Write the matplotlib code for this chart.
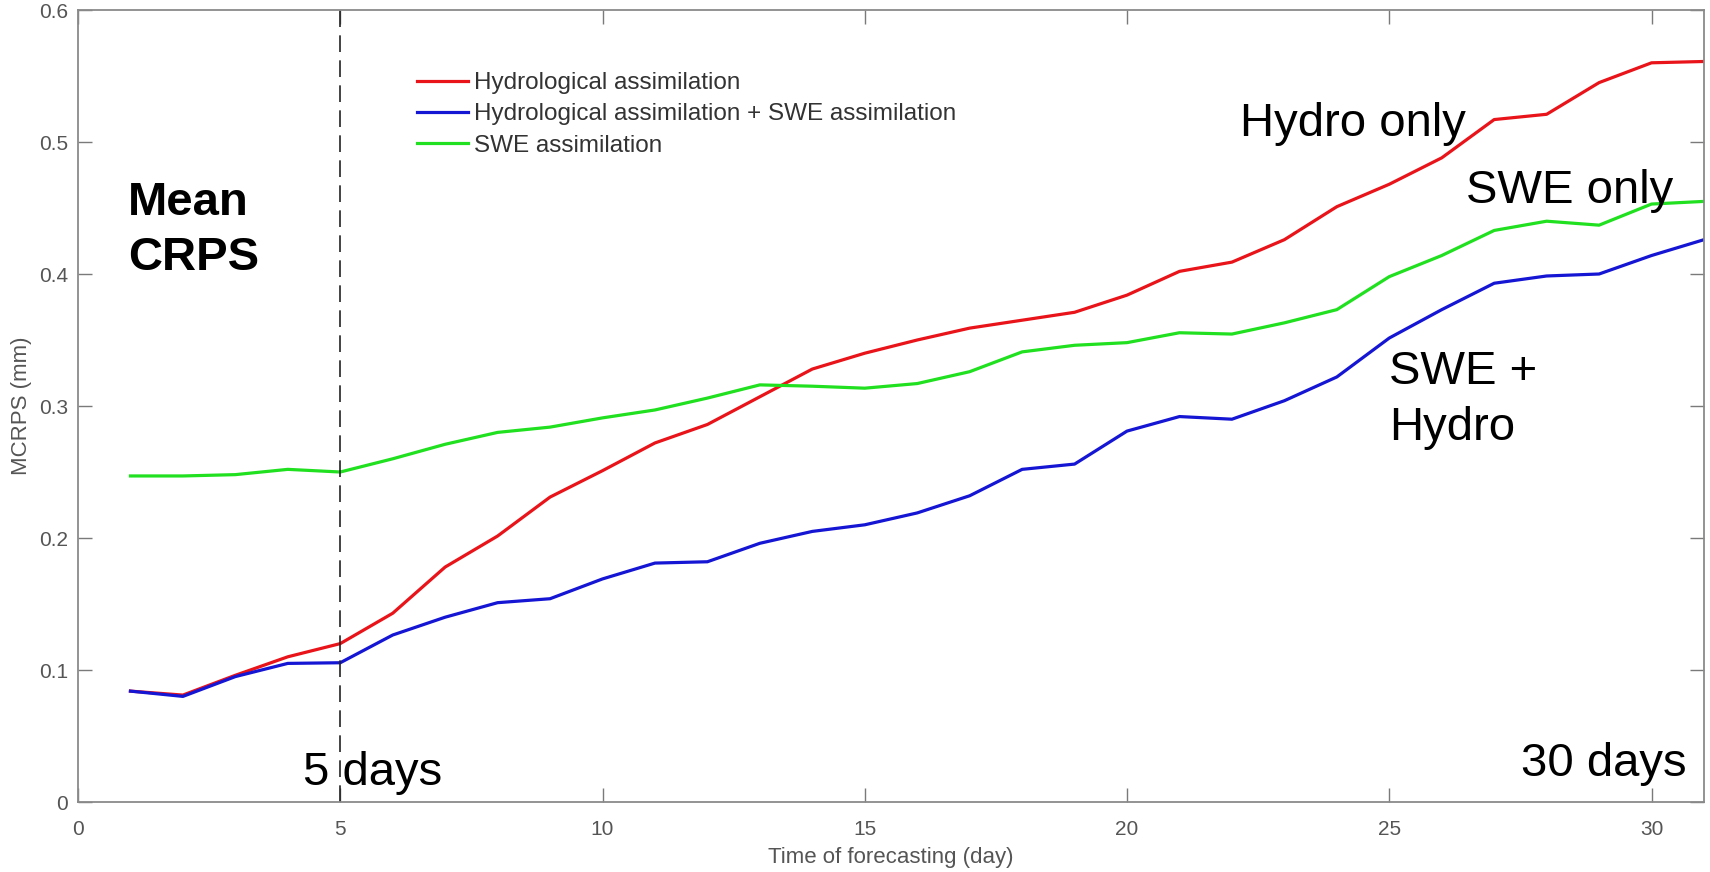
import matplotlib.pyplot as plt
from matplotlib.ticker import FormatStrFormatter

# forecast lead time (days)
days = list(range(1, 32))

# mean CRPS (mm)
hydro = [0.084, 0.081, 0.096, 0.110, 0.120, 0.143, 0.178, 0.2015, 0.231, 0.251,
         0.272, 0.286, 0.307, 0.328, 0.340, 0.350, 0.359, 0.365, 0.371, 0.384,
         0.402, 0.409, 0.426, 0.451, 0.468, 0.488, 0.517, 0.521, 0.545, 0.560, 0.561]
hydro_swe = [0.084, 0.080, 0.095, 0.105, 0.1055, 0.1265, 0.140, 0.151, 0.154, 0.169,
             0.181, 0.182, 0.196, 0.205, 0.210, 0.219, 0.232, 0.252, 0.256, 0.281,
             0.292, 0.290, 0.304, 0.322, 0.3515, 0.373, 0.393, 0.3985, 0.400, 0.414, 0.426]
swe = [0.247, 0.247, 0.248, 0.252, 0.250, 0.260, 0.271, 0.280, 0.284, 0.291,
       0.297, 0.306, 0.316, 0.315, 0.3135, 0.317, 0.326, 0.341, 0.346, 0.348,
       0.3555, 0.3545, 0.363, 0.373, 0.398, 0.414, 0.433, 0.440, 0.437, 0.453, 0.455]

labels = ["Hydrological assimilation",
          "Hydrological assimilation + SWE assimilation",
          "SWE assimilation"]
x_ticks = [0, 5, 10, 15, 20, 25, 30]
y_ticks = [0, 0.1, 0.2, 0.3, 0.4, 0.5, 0.6]

plt.rcParams['font.family'] = ['Liberation Sans', 'DejaVu Sans']

fig = plt.figure(figsize=(17.1, 8.72), dpi=100)
ax = fig.add_axes([78 / 1710, 70 / 872, 1626 / 1710, 792 / 872])

ax.plot(days, hydro, color='#e8141a', lw=2.3, label=labels[0])
ax.plot(days, hydro_swe, color='#1515d4', lw=2.3, label=labels[1])
ax.plot(days, swe, color='#20e020', lw=2.3, label=labels[2])

# 5-day marker
ax.axvline(5, color='#222222', lw=1.2, linestyle=(0, (10, 5)))

ax.set_xlim(0, 31)
ax.set_ylim(0, 0.6)
ax.set_xticks(x_ticks)
ax.set_yticks(y_ticks)
ax.yaxis.set_major_formatter(FormatStrFormatter('%g'))
ax.tick_params(direction='in', length=10, width=1, color='#7a7a7a',
               labelcolor='#555555', labelsize=15, top=True, right=True)
ax.tick_params(axis='x', pad=13)
ax.tick_params(axis='y', pad=7)
for s in ax.spines.values():
    s.set_color('#8a8a8a')
    s.set_linewidth(1.3)

ax.set_xlabel("Time of forecasting (day)", fontsize=16, color='#555555', labelpad=6)
ax.set_ylabel("MCRPS (mm)", fontsize=16, color='#555555', labelpad=5)

leg = ax.legend(loc='upper left', bbox_to_anchor=(417 / 1710, 1 - 72 / 872),
                bbox_transform=fig.transFigure, frameon=False, fontsize=17.5,
                borderpad=0, borderaxespad=0, handlelength=2.1,
                handletextpad=0.25, labelspacing=0.38)
for t in leg.get_texts():
    t.set_color('#333333')

# annotations
big = 34
ax.text(0.95, 0.4447, "Mean", fontsize=big, fontweight='bold', va='baseline')
ax.text(0.95, 0.403, "CRPS", fontsize=big, fontweight='bold', va='baseline')
ax.text(4.29, 0.0129, "5 days", fontsize=big, va='baseline')
ax.text(30.67, 0.0197, "30 days", fontsize=big, va='baseline', ha='right')
ax.text(22.15, 0.5045, "Hydro only", fontsize=big, va='baseline')
ax.text(26.47, 0.4538, "SWE only", fontsize=big, va='baseline')
ax.text(25.0, 0.3167, "SWE +", fontsize=big, va='baseline')
ax.text(25.0, 0.274, "Hydro", fontsize=big, va='baseline')

fig.savefig('out.png', dpi=100)
